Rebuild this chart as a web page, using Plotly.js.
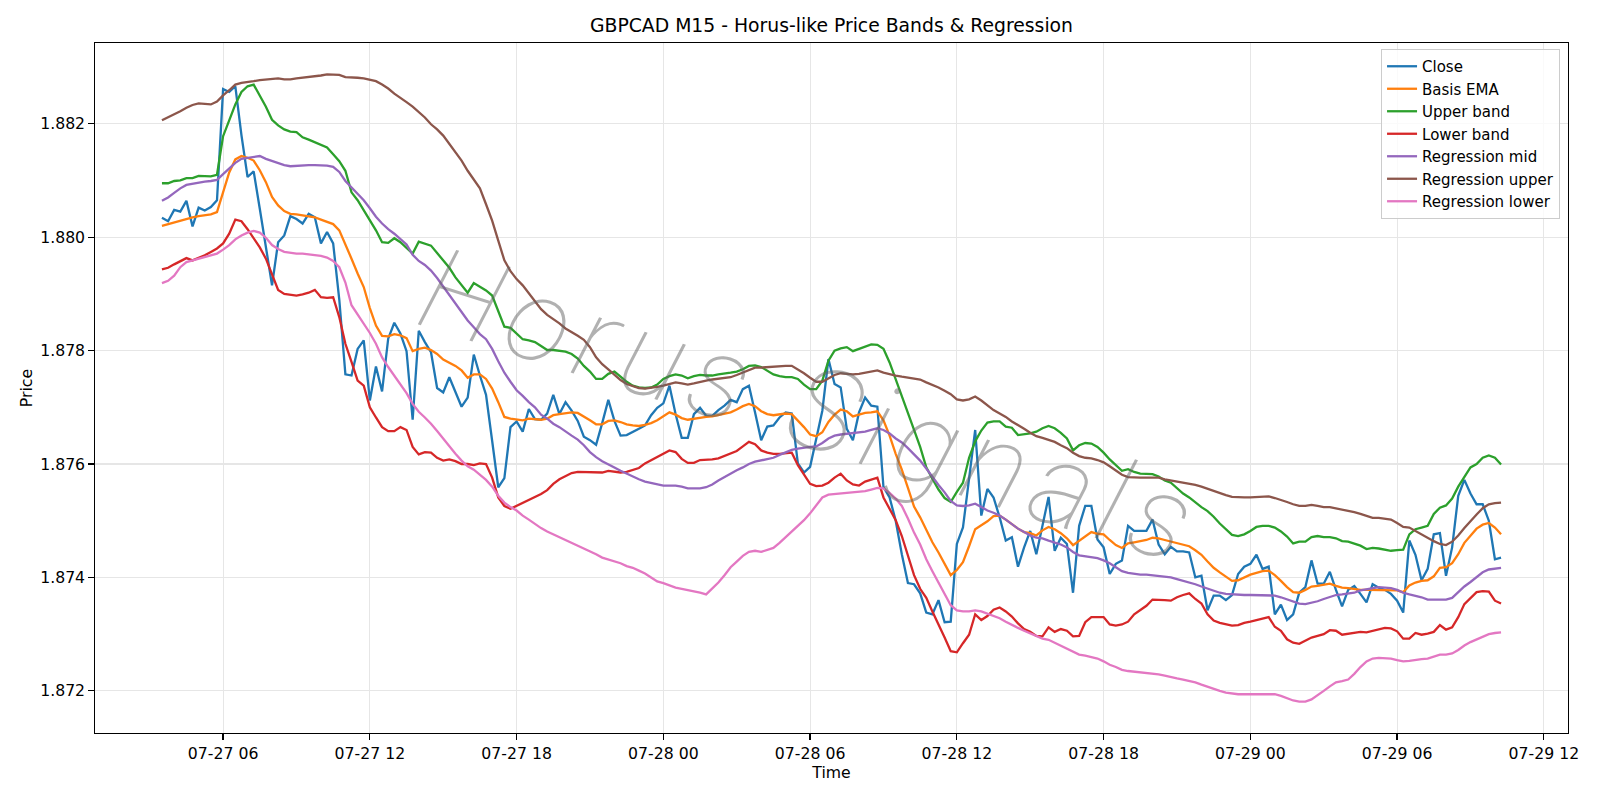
<!DOCTYPE html>
<html>
<head>
<meta charset="utf-8">
<script src="https://cdn.plot.ly/plotly-3.0.1.min.js"></script>
<style>
  html, body { margin: 0; padding: 0; background: #ffffff; }
  #chart { width: 1600px; height: 800px; }
</style>
</head>
<body>
<div id="chart"></div>
<script>
// GBPCAD M15 bars, 07-27 03:30 .. 07-29 10:15 (15-minute steps)
const barStartUtc = Date.UTC(2025, 6, 27, 3, 30);
const barMinutes = 15;

const closePrice = [
  1.88034,1.88028,1.88048,1.88045,1.88064,1.88019,1.88052,1.88047,1.88053,1.88065,
  1.88261,1.88256,1.88266,1.88180,1.88106,1.88116,1.88050,1.87980,1.87915,1.87991,
  1.88003,1.88037,1.88032,1.88024,1.88041,1.88035,1.87989,1.88009,1.87989,1.87890,
  1.87758,1.87756,1.87803,1.87818,1.87712,1.87772,1.87728,1.87821,1.87849,1.87830,
  1.87799,1.87678,1.87835,1.87815,1.87797,1.87734,1.87726,1.87753,1.87728,1.87701,
  1.87717,1.87793,1.87756,1.87722,1.87641,1.87559,1.87575,1.87665,1.87675,1.87657,
  1.87697,1.87679,1.87678,1.87689,1.87722,1.87688,1.87709,1.87694,1.87676,1.87648,
  1.87642,1.87634,1.87672,1.87713,1.87676,1.87650,1.87651,1.87656,1.87662,1.87668,
  1.87686,1.87699,1.87707,1.87738,1.87688,1.87646,1.87646,1.87688,1.87699,1.87685,
  1.87685,1.87695,1.87703,1.87713,1.87709,1.87732,1.87738,1.87691,1.87642,1.87666,
  1.87668,1.87682,1.87691,1.87689,1.87601,1.87585,1.87595,1.87644,1.87694,1.87785,
  1.87741,1.87735,1.87662,1.87642,1.87691,1.87717,1.87703,1.87701,1.87559,1.87541,
  1.87500,1.87441,1.87390,1.87388,1.87372,1.87338,1.87335,1.87360,1.87321,1.87322,
  1.87459,1.87488,1.87574,1.87660,1.87509,1.87556,1.87541,1.87506,1.87465,1.87471,
  1.87419,1.87453,1.87482,1.87441,1.87491,1.87542,1.87447,1.87470,1.87459,1.87373,
  1.87491,1.87526,1.87526,1.87467,1.87453,1.87406,1.87424,1.87430,1.87491,1.87482,
  1.87482,1.87482,1.87502,1.87458,1.87441,1.87454,1.87446,1.87446,1.87444,1.87400,
  1.87403,1.87342,1.87368,1.87368,1.87360,1.87369,1.87406,1.87419,1.87424,1.87440,
  1.87415,1.87419,1.87335,1.87352,1.87325,1.87335,1.87373,1.87383,1.87430,1.87389,
  1.87389,1.87410,1.87378,1.87349,1.87378,1.87385,1.87371,1.87356,1.87388,1.87382,
  1.87378,1.87371,1.87359,1.87338,1.87465,1.87440,1.87395,1.87415,1.87476,1.87478,
  1.87403,1.87453,1.87544,1.87572,1.87548,1.87529,1.87529,1.87500,1.87432,1.87435
];

const basisEma = [
  1.88020,1.88023,1.88026,1.88030,1.88033,1.88035,1.88037,1.88038,1.88040,1.88044,
  1.88079,1.88114,1.88137,1.88143,1.88140,1.88135,1.88118,1.88097,1.88071,1.88056,
  1.88046,1.88041,1.88040,1.88038,1.88037,1.88035,1.88031,1.88027,1.88023,1.88012,
  1.87988,1.87962,1.87936,1.87912,1.87875,1.87844,1.87826,1.87825,1.87829,1.87827,
  1.87822,1.87799,1.87803,1.87805,1.87801,1.87794,1.87784,1.87778,1.87773,1.87765,
  1.87752,1.87758,1.87758,1.87750,1.87733,1.87709,1.87683,1.87680,1.87679,1.87677,
  1.87680,1.87679,1.87678,1.87680,1.87686,1.87688,1.87690,1.87691,1.87690,1.87684,
  1.87677,1.87670,1.87670,1.87676,1.87677,1.87674,1.87670,1.87668,1.87667,1.87669,
  1.87672,1.87677,1.87684,1.87691,1.87687,1.87681,1.87678,1.87680,1.87682,1.87683,
  1.87684,1.87686,1.87688,1.87691,1.87696,1.87702,1.87706,1.87702,1.87693,1.87688,
  1.87686,1.87688,1.87689,1.87688,1.87677,1.87665,1.87652,1.87649,1.87656,1.87674,
  1.87687,1.87696,1.87693,1.87684,1.87687,1.87690,1.87691,1.87693,1.87677,1.87650,
  1.87618,1.87590,1.87558,1.87525,1.87506,1.87485,1.87462,1.87444,1.87425,1.87404,
  1.87413,1.87427,1.87455,1.87485,1.87492,1.87499,1.87508,1.87509,1.87502,1.87494,
  1.87486,1.87480,1.87478,1.87474,1.87483,1.87489,1.87485,1.87478,1.87469,1.87457,
  1.87465,1.87473,1.87480,1.87477,1.87476,1.87466,1.87457,1.87452,1.87460,1.87462,
  1.87464,1.87466,1.87470,1.87469,1.87466,1.87463,1.87460,1.87457,1.87455,1.87448,
  1.87440,1.87428,1.87417,1.87409,1.87401,1.87394,1.87395,1.87400,1.87405,1.87408,
  1.87411,1.87412,1.87404,1.87394,1.87383,1.87374,1.87373,1.87378,1.87384,1.87385,
  1.87387,1.87389,1.87385,1.87382,1.87381,1.87379,1.87378,1.87378,1.87378,1.87378,
  1.87378,1.87378,1.87377,1.87374,1.87386,1.87391,1.87394,1.87395,1.87402,1.87417,
  1.87418,1.87425,1.87441,1.87461,1.87474,1.87486,1.87493,1.87496,1.87488,1.87476
];

const upperBand = [
  1.88095,1.88095,1.88099,1.88100,1.88104,1.88104,1.88108,1.88108,1.88107,1.88110,
  1.88178,1.88206,1.88234,1.88256,1.88266,1.88269,1.88250,1.88230,1.88207,1.88197,
  1.88190,1.88186,1.88185,1.88176,1.88172,1.88167,1.88163,1.88158,1.88146,1.88134,
  1.88117,1.88079,1.88065,1.88047,1.88030,1.88012,1.87991,1.87990,1.87998,1.87991,
  1.87981,1.87971,1.87992,1.87988,1.87985,1.87972,1.87959,1.87946,1.87929,1.87916,
  1.87902,1.87919,1.87913,1.87906,1.87897,1.87870,1.87842,1.87840,1.87830,1.87820,
  1.87818,1.87815,1.87808,1.87801,1.87801,1.87800,1.87798,1.87794,1.87786,1.87773,
  1.87763,1.87750,1.87750,1.87759,1.87763,1.87754,1.87745,1.87738,1.87735,1.87734,
  1.87735,1.87740,1.87750,1.87755,1.87758,1.87756,1.87751,1.87755,1.87757,1.87756,
  1.87756,1.87758,1.87759,1.87761,1.87763,1.87767,1.87773,1.87774,1.87771,1.87765,
  1.87758,1.87755,1.87753,1.87753,1.87750,1.87740,1.87732,1.87732,1.87747,1.87782,
  1.87800,1.87804,1.87806,1.87799,1.87803,1.87807,1.87811,1.87810,1.87803,1.87779,
  1.87750,1.87721,1.87690,1.87660,1.87630,1.87594,1.87574,1.87555,1.87540,1.87533,
  1.87551,1.87567,1.87611,1.87640,1.87659,1.87673,1.87675,1.87675,1.87666,1.87664,
  1.87651,1.87652,1.87654,1.87657,1.87663,1.87667,1.87663,1.87655,1.87645,1.87624,
  1.87633,1.87637,1.87636,1.87630,1.87620,1.87608,1.87598,1.87588,1.87591,1.87586,
  1.87583,1.87583,1.87582,1.87578,1.87571,1.87567,1.87558,1.87548,1.87541,1.87532,
  1.87524,1.87517,1.87507,1.87495,1.87485,1.87475,1.87473,1.87476,1.87482,1.87489,
  1.87491,1.87491,1.87488,1.87481,1.87472,1.87460,1.87463,1.87463,1.87471,1.87473,
  1.87471,1.87471,1.87469,1.87464,1.87463,1.87460,1.87456,1.87450,1.87452,1.87451,
  1.87449,1.87447,1.87448,1.87449,1.87476,1.87485,1.87488,1.87491,1.87512,1.87523,
  1.87527,1.87539,1.87560,1.87576,1.87594,1.87600,1.87611,1.87615,1.87611,1.87599
];

const lowerBand = [
  1.87943,1.87946,1.87952,1.87958,1.87963,1.87959,1.87963,1.87968,1.87974,1.87980,
  1.87989,1.88006,1.88031,1.88028,1.88014,1.87998,1.87982,1.87962,1.87935,1.87907,
  1.87900,1.87898,1.87897,1.87899,1.87902,1.87907,1.87894,1.87893,1.87894,1.87859,
  1.87812,1.87780,1.87747,1.87738,1.87700,1.87682,1.87665,1.87658,1.87658,1.87665,
  1.87660,1.87630,1.87617,1.87621,1.87620,1.87611,1.87606,1.87608,1.87605,1.87600,
  1.87600,1.87598,1.87601,1.87600,1.87576,1.87541,1.87526,1.87521,1.87526,1.87532,
  1.87537,1.87541,1.87547,1.87554,1.87565,1.87573,1.87578,1.87584,1.87586,1.87586,
  1.87585,1.87585,1.87585,1.87588,1.87586,1.87585,1.87586,1.87589,1.87593,1.87601,
  1.87607,1.87612,1.87618,1.87624,1.87621,1.87609,1.87602,1.87602,1.87607,1.87607,
  1.87608,1.87610,1.87614,1.87618,1.87623,1.87631,1.87639,1.87635,1.87624,1.87620,
  1.87618,1.87618,1.87619,1.87620,1.87598,1.87581,1.87565,1.87561,1.87562,1.87567,
  1.87576,1.87583,1.87571,1.87564,1.87562,1.87569,1.87572,1.87576,1.87541,1.87522,
  1.87501,1.87473,1.87438,1.87404,1.87380,1.87364,1.87340,1.87318,1.87294,1.87270,
  1.87268,1.87284,1.87299,1.87335,1.87325,1.87332,1.87343,1.87347,1.87340,1.87331,
  1.87319,1.87309,1.87304,1.87297,1.87296,1.87312,1.87304,1.87309,1.87306,1.87296,
  1.87297,1.87321,1.87330,1.87330,1.87330,1.87317,1.87315,1.87317,1.87322,1.87335,
  1.87343,1.87350,1.87361,1.87361,1.87360,1.87359,1.87365,1.87369,1.87372,1.87362,
  1.87354,1.87335,1.87324,1.87320,1.87318,1.87315,1.87316,1.87320,1.87322,1.87325,
  1.87328,1.87330,1.87313,1.87306,1.87291,1.87285,1.87283,1.87289,1.87294,1.87297,
  1.87300,1.87307,1.87306,1.87299,1.87301,1.87302,1.87304,1.87303,1.87306,1.87309,
  1.87311,1.87310,1.87305,1.87292,1.87292,1.87302,1.87299,1.87301,1.87304,1.87316,
  1.87308,1.87312,1.87330,1.87353,1.87363,1.87374,1.87376,1.87375,1.87359,1.87354
];

const regressionMid = [
  1.88064,1.88070,1.88078,1.88086,1.88092,1.88094,1.88097,1.88098,1.88099,1.88101,
  1.88111,1.88121,1.88131,1.88138,1.88140,1.88142,1.88143,1.88138,1.88134,1.88131,
  1.88127,1.88125,1.88126,1.88126,1.88127,1.88127,1.88127,1.88126,1.88124,1.88115,
  1.88099,1.88088,1.88077,1.88065,1.88051,1.88036,1.88024,1.88014,1.88006,1.87997,
  1.87987,1.87969,1.87958,1.87951,1.87941,1.87928,1.87913,1.87898,1.87884,1.87868,
  1.87853,1.87841,1.87829,1.87820,1.87803,1.87781,1.87761,1.87745,1.87730,1.87720,
  1.87709,1.87700,1.87687,1.87680,1.87671,1.87665,1.87657,1.87650,1.87643,1.87633,
  1.87621,1.87612,1.87605,1.87600,1.87594,1.87588,1.87583,1.87577,1.87573,1.87569,
  1.87567,1.87564,1.87562,1.87562,1.87562,1.87560,1.87557,1.87557,1.87557,1.87559,
  1.87564,1.87571,1.87577,1.87584,1.87589,1.87594,1.87600,1.87604,1.87606,1.87608,
  1.87611,1.87616,1.87621,1.87625,1.87627,1.87629,1.87630,1.87631,1.87637,1.87645,
  1.87650,1.87652,1.87653,1.87654,1.87655,1.87657,1.87660,1.87663,1.87660,1.87654,
  1.87645,1.87638,1.87628,1.87616,1.87606,1.87592,1.87577,1.87563,1.87550,1.87535,
  1.87527,1.87526,1.87527,1.87530,1.87524,1.87518,1.87514,1.87509,1.87502,1.87494,
  1.87486,1.87480,1.87474,1.87470,1.87469,1.87465,1.87462,1.87458,1.87453,1.87445,
  1.87439,1.87437,1.87435,1.87434,1.87430,1.87425,1.87418,1.87411,1.87408,1.87406,
  1.87405,1.87405,1.87404,1.87403,1.87401,1.87400,1.87397,1.87394,1.87392,1.87388,
  1.87384,1.87380,1.87376,1.87373,1.87371,1.87370,1.87369,1.87369,1.87369,1.87369,
  1.87369,1.87369,1.87368,1.87365,1.87361,1.87357,1.87354,1.87353,1.87355,1.87358,
  1.87362,1.87365,1.87369,1.87370,1.87372,1.87373,1.87377,1.87379,1.87382,1.87383,
  1.87382,1.87381,1.87378,1.87373,1.87370,1.87368,1.87365,1.87361,1.87361,1.87361,
  1.87361,1.87364,1.87374,1.87384,1.87392,1.87401,1.87409,1.87414,1.87416,1.87417
];

const regressionUpper = [
  1.88206,1.88211,1.88217,1.88222,1.88228,1.88233,1.88236,1.88235,1.88234,1.88239,
  1.88250,1.88259,1.88269,1.88272,1.88273,1.88275,1.88277,1.88278,1.88280,1.88280,
  1.88278,1.88278,1.88280,1.88281,1.88283,1.88284,1.88285,1.88287,1.88287,1.88286,
  1.88282,1.88282,1.88281,1.88280,1.88278,1.88275,1.88269,1.88262,1.88253,1.88246,
  1.88238,1.88230,1.88220,1.88211,1.88199,1.88190,1.88179,1.88164,1.88149,1.88135,
  1.88117,1.88101,1.88086,1.88058,1.88029,1.87994,1.87959,1.87940,1.87926,1.87915,
  1.87901,1.87888,1.87873,1.87863,1.87856,1.87848,1.87839,1.87833,1.87826,1.87819,
  1.87806,1.87788,1.87776,1.87767,1.87757,1.87748,1.87741,1.87737,1.87734,1.87733,
  1.87734,1.87736,1.87738,1.87741,1.87744,1.87742,1.87740,1.87742,1.87745,1.87747,
  1.87749,1.87750,1.87751,1.87753,1.87757,1.87761,1.87766,1.87770,1.87770,1.87771,
  1.87771,1.87772,1.87773,1.87773,1.87767,1.87760,1.87752,1.87745,1.87745,1.87751,
  1.87757,1.87760,1.87759,1.87758,1.87759,1.87761,1.87763,1.87765,1.87761,1.87758,
  1.87756,1.87754,1.87752,1.87751,1.87749,1.87744,1.87740,1.87735,1.87729,1.87723,
  1.87714,1.87712,1.87714,1.87719,1.87712,1.87704,1.87695,1.87689,1.87683,1.87675,
  1.87669,1.87662,1.87655,1.87649,1.87646,1.87643,1.87639,1.87633,1.87628,1.87620,
  1.87614,1.87611,1.87610,1.87607,1.87603,1.87596,1.87588,1.87581,1.87577,1.87576,
  1.87576,1.87576,1.87576,1.87576,1.87573,1.87571,1.87569,1.87567,1.87566,1.87563,
  1.87560,1.87556,1.87552,1.87548,1.87545,1.87542,1.87541,1.87541,1.87541,1.87542,
  1.87542,1.87543,1.87540,1.87537,1.87533,1.87529,1.87526,1.87526,1.87528,1.87526,
  1.87524,1.87524,1.87522,1.87520,1.87518,1.87515,1.87512,1.87508,1.87505,1.87505,
  1.87504,1.87502,1.87496,1.87489,1.87488,1.87482,1.87475,1.87469,1.87464,1.87459,
  1.87457,1.87463,1.87474,1.87487,1.87500,1.87511,1.87522,1.87529,1.87531,1.87532
];

const regressionLower = [
  1.87919,1.87923,1.87932,1.87947,1.87956,1.87959,1.87962,1.87964,1.87967,1.87971,
  1.87978,1.87986,1.87996,1.88003,1.88008,1.88011,1.88008,1.87999,1.87986,1.87979,
  1.87974,1.87972,1.87971,1.87971,1.87970,1.87969,1.87967,1.87964,1.87958,1.87947,
  1.87920,1.87880,1.87864,1.87847,1.87831,1.87812,1.87788,1.87771,1.87755,1.87740,
  1.87725,1.87706,1.87692,1.87682,1.87671,1.87658,1.87644,1.87630,1.87618,1.87606,
  1.87596,1.87590,1.87581,1.87572,1.87560,1.87544,1.87532,1.87524,1.87518,1.87509,
  1.87502,1.87494,1.87487,1.87481,1.87476,1.87472,1.87467,1.87462,1.87457,1.87452,
  1.87447,1.87441,1.87435,1.87432,1.87428,1.87425,1.87420,1.87417,1.87412,1.87407,
  1.87400,1.87393,1.87390,1.87386,1.87382,1.87380,1.87378,1.87375,1.87373,1.87370,
  1.87380,1.87391,1.87404,1.87418,1.87428,1.87438,1.87445,1.87447,1.87445,1.87449,
  1.87452,1.87461,1.87471,1.87482,1.87492,1.87501,1.87513,1.87527,1.87541,1.87546,
  1.87547,1.87548,1.87549,1.87550,1.87550,1.87552,1.87555,1.87558,1.87557,1.87549,
  1.87539,1.87526,1.87504,1.87479,1.87458,1.87432,1.87411,1.87391,1.87370,1.87351,
  1.87342,1.87340,1.87340,1.87342,1.87340,1.87336,1.87332,1.87328,1.87322,1.87316,
  1.87311,1.87306,1.87301,1.87296,1.87292,1.87290,1.87285,1.87280,1.87274,1.87269,
  1.87264,1.87262,1.87259,1.87257,1.87252,1.87246,1.87242,1.87237,1.87235,1.87234,
  1.87233,1.87232,1.87231,1.87229,1.87227,1.87224,1.87222,1.87220,1.87218,1.87215,
  1.87211,1.87207,1.87203,1.87200,1.87197,1.87195,1.87194,1.87194,1.87194,1.87194,
  1.87194,1.87195,1.87194,1.87191,1.87187,1.87183,1.87181,1.87181,1.87185,1.87192,
  1.87200,1.87208,1.87215,1.87217,1.87220,1.87230,1.87242,1.87252,1.87257,1.87258,
  1.87258,1.87257,1.87254,1.87252,1.87253,1.87255,1.87256,1.87257,1.87260,1.87264,
  1.87264,1.87266,1.87272,1.87280,1.87286,1.87291,1.87296,1.87300,1.87302,1.87303
];

const seriesNames = ['Close', 'Basis EMA', 'Upper band', 'Lower band',
                     'Regression mid', 'Regression upper', 'Regression lower'];
const seriesColors = ['#1f77b4', '#ff7f0e', '#2ca02c', '#d62728',
                      '#9467bd', '#8c564b', '#e377c2'];
const watermarkText = 'Horus Signals';

// timestamps for each bar
function barTime(i) {
  const d = new Date(barStartUtc + i * barMinutes * 60000);
  return d.toISOString().slice(0, 16).replace('T', ' ');
}
const times = closePrice.map((_, i) => barTime(i));

const seriesValues = [closePrice, basisEma, upperBand, lowerBand,
                      regressionMid, regressionUpper, regressionLower];

const traces = seriesValues.map((vals, k) => ({
  type: 'scatter',
  mode: 'lines',
  name: seriesNames[k],
  x: times,
  y: vals,
  line: { color: seriesColors[k], width: 2.3 },
  hoverinfo: 'x+y+name'
}));

// 5% padding around the data span, on both axes
const tFirst = barStartUtc;
const tLast = barStartUtc + (closePrice.length - 1) * barMinutes * 60000;
const tPad = (tLast - tFirst) * 0.05;
const fmt = ms => new Date(ms).toISOString().slice(0, 19).replace('T', ' ');
const allVals = seriesValues.flat();
const vMin = Math.min(...allVals), vMax = Math.max(...allVals);
const vPad = (vMax - vMin) * 0.05;

const baseFont = { family: 'DejaVu Sans, sans-serif', size: 15.7, color: '#000000' };

const axisStyle = {
  showline: true, linecolor: '#000000', linewidth: 1.25, mirror: true,
  ticks: 'outside', ticklen: 5.5, tickwidth: 1.25, tickcolor: '#000000',
  showgrid: true, gridcolor: '#e6e6e6', gridwidth: 1.1,
  zeroline: false, tickfont: baseFont
};

const layout = {
  width: 1600, height: 800,
  paper_bgcolor: '#ffffff', plot_bgcolor: '#ffffff',
  margin: { l: 95, r: 32, t: 43, b: 67 },
  font: baseFont,
  title: {
    text: 'GBPCAD M15 - Horus-like Price Bands & Regression',
    font: { family: 'DejaVu Sans, sans-serif', size: 18.8, color: '#000000' },
    x: 0.5, xref: 'paper', xanchor: 'center',
    y: 1 - 25.5 / 800, yref: 'container', yanchor: 'middle'
  },
  xaxis: Object.assign({}, axisStyle, {
    type: 'date',
    range: [fmt(tFirst - tPad), fmt(tLast + tPad)],
    tick0: '2025-07-27 06:00', dtick: 6 * 3600 * 1000,
    tickformat: '%m-%d %H',
    title: { text: 'Time', font: baseFont, standoff: 1 }
  }),
  yaxis: Object.assign({}, axisStyle, {
    range: [vMin - vPad, vMax + vPad],
    tick0: 1.872, dtick: 0.002, tickformat: '.3f',
    title: { text: 'Price', font: baseFont, standoff: 3 }
  }),
  legend: {
    x: 0.9946, y: 0.9913, xanchor: 'right', yanchor: 'top',
    bgcolor: 'rgba(255,255,255,0.8)', bordercolor: '#cccccc', borderwidth: 1,
    font: Object.assign({}, baseFont, { size: 15.0 }), tracegroupgap: 0
  },
  annotations: [{
    text: watermarkText,
    xref: 'paper', yref: 'paper', x: 0.483, y: 0.476,
    xanchor: 'center', yanchor: 'middle',
    showarrow: false, textangle: 17.5,
    font: { family: 'Roboto, sans-serif', size: 116, color: 'rgba(100,100,100,0.5)',
            style: 'italic', weight: 100 }
  }],
  showlegend: true
};

Plotly.newPlot('chart', traces, layout, { displayModeBar: false, staticPlot: true })
  .then(() => {
    // spread the watermark letters along its baseline
    document.querySelectorAll('.annotation-text').forEach(el => {
      el.setAttribute('textLength', '800');
      el.setAttribute('lengthAdjust', 'spacing');
    });
  });
</script>
</body>
</html>
